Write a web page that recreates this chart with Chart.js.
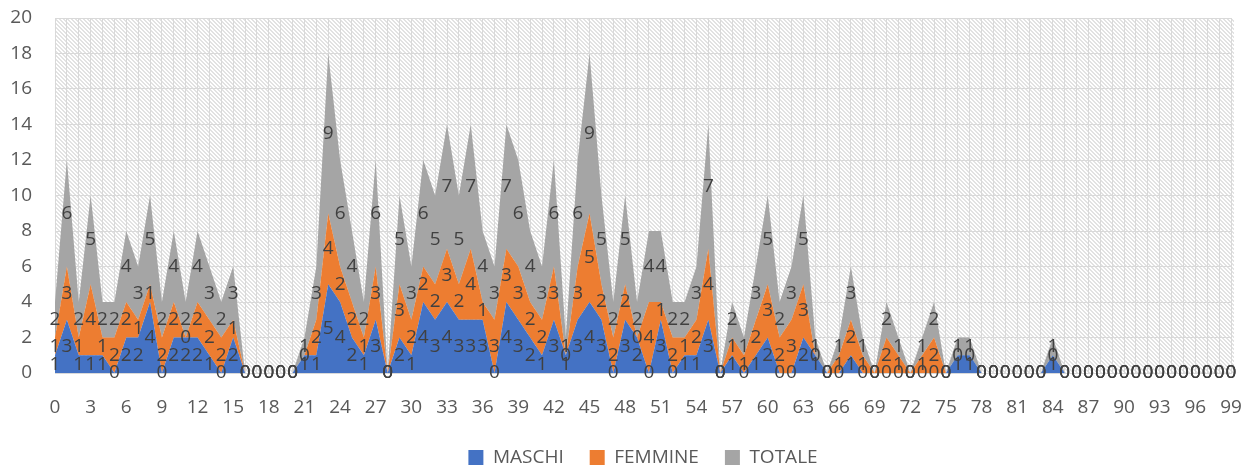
<!DOCTYPE html>
<html>
<head>
<meta charset="utf-8">
<script src="https://cdn.jsdelivr.net/npm/chart.js@4.4.1/dist/chart.umd.min.js"></script>
<style>
  html, body { margin: 0; padding: 0; background: #ffffff; }
  #wrap { width: 1259px; height: 469px; }
</style>
</head>
<body>
<div id="wrap"><canvas id="grafico" width="1259" height="469"></canvas></div>
<script>
// eta' 0..99 sull'asse x
const eta = Array.from({ length: 100 }, (_, i) => String(i));

const maschi = [
  1, 3, 1, 1, 1, 0, 2, 2, 4, 0,
  2, 2, 2, 1, 0, 2, 0, 0, 0, 0,
  0, 1, 1, 5, 4, 2, 1, 3, 0, 2,
  1, 4, 3, 4, 3, 3, 3, 0, 4, 3,
  2, 1, 3, 1, 3, 4, 3, 0, 3, 2,
  0, 3, 0, 1, 1, 3, 0, 1, 0, 1,
  2, 0, 0, 2, 1, 0, 0, 1, 0, 0,
  0, 0, 0, 0, 0, 0, 1, 1, 0, 0,
  0, 0, 0, 0, 1, 0, 0, 0, 0, 0,
  0, 0, 0, 0, 0, 0, 0, 0, 0, 0
];

const femmine = [
  1, 3, 1, 4, 1, 2, 2, 1, 1, 2,
  2, 0, 2, 2, 2, 1, 0, 0, 0, 0,
  0, 0, 2, 4, 2, 2, 1, 3, 0, 3,
  2, 2, 2, 3, 2, 4, 1, 3, 3, 3,
  2, 2, 3, 0, 3, 5, 2, 2, 2, 0,
  4, 1, 2, 1, 2, 4, 0, 1, 1, 2,
  3, 2, 3, 3, 0, 0, 1, 2, 1, 0,
  2, 1, 0, 1, 2, 0, 0, 0, 0, 0,
  0, 0, 0, 0, 0, 0, 0, 0, 0, 0,
  0, 0, 0, 0, 0, 0, 0, 0, 0, 0
];

const totale = [
  2, 6, 2, 5, 2, 2, 4, 3, 5, 2,
  4, 2, 4, 3, 2, 3, 0, 0, 0, 0,
  0, 1, 3, 9, 6, 4, 2, 6, 0, 5,
  3, 6, 5, 7, 5, 7, 4, 3, 7, 6,
  4, 3, 6, 1, 6, 9, 5, 2, 5, 2,
  4, 4, 2, 2, 3, 7, 0, 2, 1, 3,
  5, 2, 3, 5, 1, 0, 1, 3, 1, 0,
  2, 1, 0, 1, 2, 0, 1, 1, 0, 0,
  0, 0, 0, 0, 1, 0, 0, 0, 0, 0,
  0, 0, 0, 0, 0, 0, 0, 0, 0, 0
];

const COLORI = {
  blu: '#4472C4',
  arancio: '#ED7D31',
  grigio: '#A5A5A5',
  testo: '#595959',
  etichetta: '#404040',
  griglia: '#d9d9d9'
};

const FONT = '"Open Sans", "DejaVu Sans", sans-serif';

// trama a righe diagonali dell'area del grafico
function tratteggio(ctx) {
  const c = document.createElement('canvas');
  c.width = 4; c.height = 4;
  const g = c.getContext('2d');
  g.fillStyle = '#ffffff';
  g.fillRect(0, 0, 4, 4);
  g.fillStyle = '#e2e2e2';
  for (let k = 0; k < 4; k++) {
    g.fillRect(k, k, 1, 1);
    g.fillRect((k + 1) % 4, k, 1, 1);
  }
  return ctx.createPattern(c, 'repeat');
}

const sfondo = {
  id: 'sfondo',
  beforeDraw(chart) {
    const { ctx, chartArea: a } = chart;
    ctx.save();
    ctx.fillStyle = tratteggio(ctx);
    ctx.fillRect(a.left, a.top, a.right - a.left + 3, a.bottom - a.top);
    ctx.restore();
  }
};

// valori scritti al centro di ogni fascia
const etichette = {
  id: 'etichette',
  afterDatasetsDraw(chart) {
    const { ctx, scales: { x, y } } = chart;
    const serie = chart.data.datasets.map(d => d.data);
    ctx.save();
    ctx.font = '19px ' + FONT;
    ctx.fillStyle = COLORI.etichetta;
    ctx.textAlign = 'center';
    ctx.textBaseline = 'middle';
    for (let i = 0; i < eta.length; i++) {
      let base = 0;
      serie.forEach(valori => {
        const v = valori[i];
        ctx.fillText(String(v), x.getPixelForValue(i), y.getPixelForValue(base + v / 2));
        base += v;
      });
    }
    ctx.restore();
  }
};

new Chart('grafico', {
  type: 'line',
  data: {
    labels: eta,
    datasets: [
      { label: 'MASCHI', data: maschi, backgroundColor: COLORI.blu, borderColor: COLORI.blu, fill: 'origin' },
      { label: 'FEMMINE', data: femmine, backgroundColor: COLORI.arancio, borderColor: COLORI.arancio, fill: '-1' },
      { label: 'TOTALE', data: totale, backgroundColor: COLORI.grigio, borderColor: COLORI.grigio, fill: '-1' }
    ]
  },
  options: {
    responsive: false,
    animation: false,
    elements: {
      point: { radius: 0 },
      line: { borderWidth: 0, tension: 0 }
    },
    layout: { padding: { left: 0, right: 28, top: 18, bottom: -8 } },
    scales: {
      x: {
        offset: false,
        grid: { color: COLORI.griglia, drawTicks: true, tickLength: 23, tickColor: 'rgba(0,0,0,0)' },
        border: { color: COLORI.griglia },
        ticks: {
          autoSkip: false,
          maxRotation: 0,
          padding: 0,
          color: COLORI.testo,
          font: { family: FONT, size: 19 },
          callback: (v, i) => (i % 3 === 0 ? eta[i] : '')
        },
        afterFit: s => { s.height = 49; }
      },
      y: {
        stacked: true,
        min: 0,
        max: 20,
        grid: { color: COLORI.griglia, drawTicks: true, tickLength: 23, tickColor: 'rgba(0,0,0,0)' },
        border: { display: false },
        ticks: {
          stepSize: 2,
          padding: 0,
          color: COLORI.testo,
          font: { family: FONT, size: 19 }
        },
        afterFit: s => { s.width = 55; }
      }
    },
    plugins: {
      legend: {
        position: 'bottom',
        fullSize: false,
        labels: {
          boxWidth: 15,
          boxHeight: 15,
          padding: 26,
          color: COLORI.testo,
          font: { family: FONT, size: 19 }
        }
      },
      tooltip: { enabled: false }
    }
  },
  plugins: [sfondo, etichette]
});
</script>
</body>
</html>
